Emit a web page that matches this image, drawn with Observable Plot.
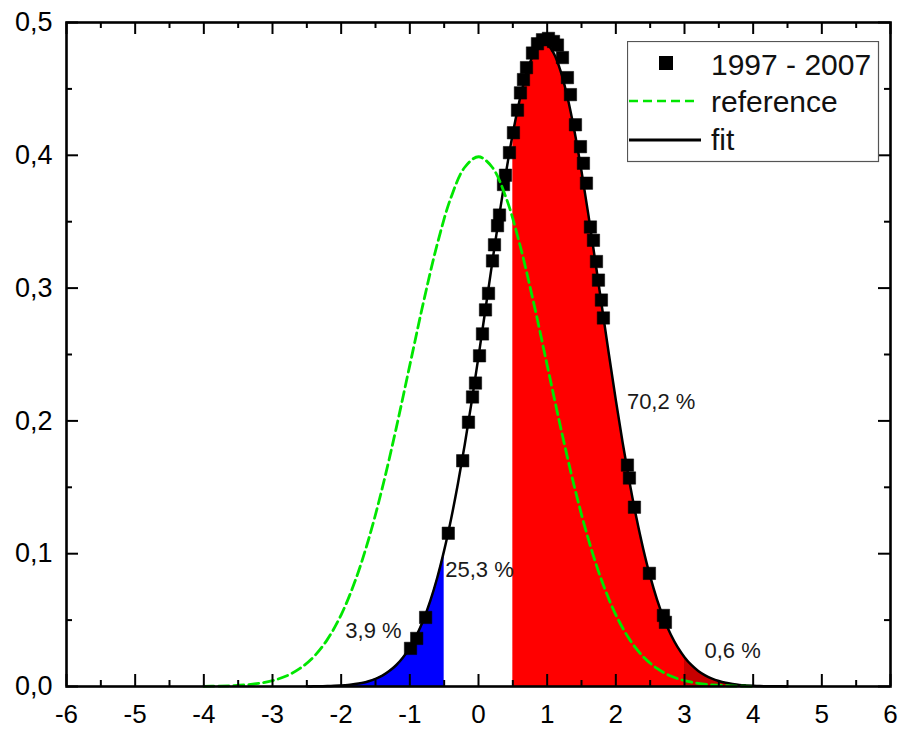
<!DOCTYPE html>
<html>
<head>
<meta charset="utf-8">
<script src="https://cdn.jsdelivr.net/npm/d3@7"></script>
<script src="https://cdn.jsdelivr.net/npm/@observablehq/plot@0.6"></script>
<style>
  html, body { margin: 0; padding: 0; background: #fff; }
  #wrap { position: relative; width: 903px; height: 731px; font-family: "Liberation Sans", Arial, sans-serif; }
  #legend { position: absolute; left: 627px; top: 41px; }
</style>
</head>
<body>
<div id="wrap"></div>
<script>
// ---- data ----
// fit curve, sampled at x = -2.5 .. 4.5 every 0.1
const fitStart = -2.5, fitStep = 0.1;
const fitY = [
  0.0001, 0.0001, 0.0002, 0.0003, 0.0005, 0.0008, 0.0012, 0.0018, 0.0027, 0.0040,
  0.0058, 0.0082, 0.0116, 0.0160, 0.0218, 0.0293, 0.0387, 0.0505, 0.0649, 0.0821,
  0.1025, 0.1260, 0.1526, 0.1822, 0.2143, 0.2484, 0.2836, 0.3192, 0.3540, 0.3868,
  0.4165, 0.4419, 0.4620, 0.4759, 0.4831, 0.4833, 0.4764, 0.4627, 0.4428, 0.4176,
  0.3881, 0.3553, 0.3206, 0.2851, 0.2498, 0.2156, 0.1834, 0.1537, 0.1270, 0.1034,
  0.0829, 0.0655, 0.0510, 0.0391, 0.0296, 0.0221, 0.0162, 0.0117, 0.0084, 0.0059,
  0.0041, 0.0028, 0.0019, 0.0012, 0.0008, 0.0005, 0.0003, 0.0002, 0.0001, 0.0001,
  0.0000
];
// reference curve, sampled at x = -4 .. 4 every 0.2
const refStart = -4, refStep = 0.2;
const refY = [
  0.0001, 0.0003, 0.0006, 0.0012, 0.0024, 0.0044, 0.0079, 0.0136, 0.0224, 0.0355,
  0.0540, 0.0790, 0.1109, 0.1497, 0.1942, 0.2420, 0.2897, 0.3332, 0.3683, 0.3910,
  0.3989,
  0.3910, 0.3683, 0.3332, 0.2897, 0.2420, 0.1942, 0.1497, 0.1109, 0.0790, 0.0540,
  0.0355, 0.0224, 0.0136, 0.0079, 0.0044, 0.0024, 0.0012, 0.0006, 0.0003, 0.0001
];
// observed points "1997 - 2007"
const obsX = [
  -0.99, -0.90, -0.77, -0.44, -0.23, -0.146, -0.087, -0.044, 0.015, 0.058,
  0.102, 0.146, 0.204, 0.233, 0.277, 0.306, 0.364, 0.393, 0.451, 0.509,
  0.568, 0.611, 0.655, 0.699, 0.786, 0.859, 0.932, 1.019, 1.092, 1.150,
  1.223, 1.295, 1.339, 1.412, 1.485, 1.528, 1.572, 1.630, 1.674, 1.718,
  1.747, 1.790, 1.819, 2.169, 2.198, 2.271, 2.489, 2.693, 2.722
];
const obsY = [
  0.0287, 0.0362, 0.052, 0.1154, 0.170, 0.199, 0.218, 0.2285, 0.249, 0.2655,
  0.2836, 0.296, 0.3205, 0.3326, 0.347, 0.355, 0.378, 0.385, 0.402, 0.417,
  0.434, 0.447, 0.457, 0.466, 0.477, 0.484, 0.487, 0.488, 0.4857, 0.483,
  0.4736, 0.4585, 0.4457, 0.423, 0.4065, 0.394, 0.379, 0.346, 0.336, 0.320,
  0.306, 0.291, 0.2775, 0.1667, 0.157, 0.135, 0.0852, 0.0535, 0.0483
];
// shaded-area boundaries and percentages
const cutLow = -0.5, cutMid = 0.5, cutHigh = 3;
const noteText = ["3,9 %", "25,3 %", "70,2 %", "0,6 %"];
const noteX = [-1.53, 0.015, 2.66, 3.70];
const noteY = [0.042, 0.0875, 0.214, 0.027];
// ticks
const xMajor = [-6, -5, -4, -3, -2, -1, 0, 1, 2, 3, 4, 5, 6];
const xMinor = [-5.5, -4.5, -3.5, -2.5, -1.5, -0.5, 0.5, 1.5, 2.5, 3.5, 4.5, 5.5];
const yMajor = [0, 0.1, 0.2, 0.3, 0.4, 0.5];
const yMinor = [0.05, 0.15, 0.25, 0.35, 0.45];
const seriesNames = ["1997 - 2007", "reference", "fit"];

// ---- build tables ----
const fit = fitY.map((y, i) => ({x: +(fitStart + fitStep * i).toFixed(2), y}));
const ref = refY.map((y, i) => ({x: +(refStart + refStep * i).toFixed(2), y}));
const obs = obsX.map((x, i) => ({x, y: obsY[i]}));
const notes = noteText.map((t, i) => ({text: t, x: noteX[i], y: noteY[i]}));

const GREEN = "#00e600";
const curve = "catmull-rom";
const fmtX = d => String(d);
const fmtY = d => d.toFixed(1).replace(".", ",");
const MAJ = 12, MIN = 6;

const chart = Plot.plot({
  width: 903,
  height: 731,
  marginLeft: 66,
  marginRight: 13,
  marginTop: 22,
  marginBottom: 45,
  x: {domain: [-6, 6]},
  y: {domain: [0, 0.5]},
  style: {fontFamily: "'Liberation Sans', Arial, sans-serif", background: "white", color: "black"},
  marks: [
    Plot.areaY(fit, {x: "x", y1: 0, y2: "y", filter: d => d.x <= cutLow, fill: "#0000ff", curve}),
    Plot.areaY(fit, {x: "x", y1: 0, y2: "y", filter: d => d.x >= cutMid && d.x <= cutHigh, fill: "#ff0000", curve}),
    Plot.areaY(fit, {x: "x", y1: 0, y2: "y", filter: d => d.x >= cutHigh, fill: "#c80000", curve}),
    Plot.line(fit, {x: "x", y: "y", stroke: "black", strokeWidth: 2.5, curve}),
    Plot.dot(obs, {x: "x", y: "y", symbol: "square", fill: "black", stroke: "black", strokeWidth: 0.5, r: 7}),
    Plot.line(ref, {x: "x", y: "y", stroke: GREEN, strokeWidth: 2.8, strokeDasharray: "10,5", curve}),
    Plot.text(notes, {x: "x", y: "y", text: "text", fontSize: 22, fill: "#1a1a1a"}),
    // inward ticks on all four sides
    Plot.ruleX(xMajor, {y1: 0, y2: 0, insetBottom: MAJ, strokeWidth: 2}),
    Plot.ruleX(xMinor, {y1: 0, y2: 0, insetBottom: MIN, strokeWidth: 2}),
    Plot.ruleX(xMajor, {y1: 0.5, y2: 0.5, insetTop: MAJ, strokeWidth: 2}),
    Plot.ruleX(xMinor, {y1: 0.5, y2: 0.5, insetTop: MIN, strokeWidth: 2}),
    Plot.ruleY(yMajor, {x1: -6, x2: -6, insetRight: -MAJ, strokeWidth: 2}),
    Plot.ruleY(yMinor, {x1: -6, x2: -6, insetRight: -MIN, strokeWidth: 2}),
    Plot.ruleY(yMajor, {x1: 6, x2: 6, insetRight: MAJ, strokeWidth: 2}),
    Plot.ruleY(yMinor, {x1: 6, x2: 6, insetRight: MIN, strokeWidth: 2}),
    Plot.frame({strokeWidth: 2.6}),
    Plot.axisX({ticks: xMajor, tickSize: 0, tickPadding: 18, fontSize: 26, tickFormat: fmtX, label: null}),
    Plot.axisY({ticks: yMajor, tickSize: 0, tickPadding: 14, fontSize: 27, tickFormat: fmtY, label: null})
  ]
});

const wrap = document.getElementById("wrap");
wrap.appendChild(chart);

// legend overlay
const lg = d3.select(wrap).append("svg")
  .attr("id", "legend").attr("width", 253).attr("height", 122)
  .style("font-family", "'Liberation Sans', Arial, sans-serif");
lg.append("rect").attr("x", 0.5).attr("y", 0.5).attr("width", 251).attr("height", 120)
  .attr("fill", "white").attr("stroke", "#555").attr("stroke-width", 1.2);
lg.append("rect").attr("x", 32).attr("y", 15).attr("width", 14).attr("height", 14).attr("fill", "black");
lg.append("line").attr("x1", 2).attr("x2", 71).attr("y1", 60).attr("y2", 60)
  .attr("stroke", GREEN).attr("stroke-width", 2.7).attr("stroke-dasharray", "9,5");
lg.append("line").attr("x1", 2).attr("x2", 74).attr("y1", 99).attr("y2", 99)
  .attr("stroke", "black").attr("stroke-width", 3);
const baselines = [34, 71, 109];
seriesNames.forEach((n, i) => {
  lg.append("text").attr("x", 84).attr("y", baselines[i]).attr("font-size", 30).attr("fill", "#111").text(n);
});
</script>
</body>
</html>
